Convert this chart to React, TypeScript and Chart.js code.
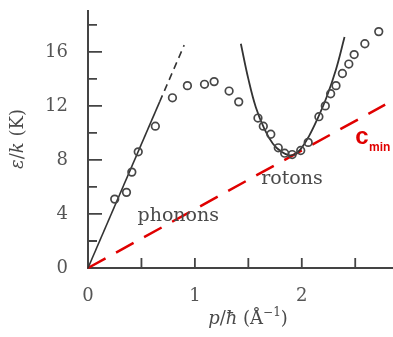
import { useEffect, useRef } from 'react';
import { Chart, registerables } from 'chart.js';

Chart.register(...registerables);

// measured dispersion points (p/ħ in Å^-1, ε/k in K)
const expP = [0.25, 0.36, 0.41, 0.47, 0.63, 0.79, 0.93, 1.09, 1.18, 1.32, 1.41, 1.59, 1.64, 1.71, 1.78, 1.84, 1.91, 1.99, 2.06, 2.16, 2.22, 2.27, 2.32, 2.38, 2.44, 2.49, 2.59, 2.72];
const expE = [5.1, 5.6, 7.1, 8.6, 10.5, 12.6, 13.5, 13.6, 13.8, 13.1, 12.3, 11.1, 10.5, 9.9, 8.9, 8.5, 8.4, 8.7, 9.3, 11.2, 12.0, 12.9, 13.5, 14.4, 15.1, 15.8, 16.6, 17.5];

// phonon line (solid part and dashed continuation)
const phononSolidP = [0, 0.67];
const phononSolidE = [0, 12.3];
const phononDashP = [0.67, 0.9];
const phononDashE = [12.3, 16.5];

// roton curve
const rotonP = [1.43, 1.50, 1.57, 1.65, 1.73, 1.81, 1.88, 1.93, 1.99, 2.07, 2.15, 2.23, 2.32, 2.40];
const rotonE = [16.6, 14.0, 11.9, 10.3, 9.2, 8.6, 8.35, 8.4, 8.8, 9.8, 11.1, 12.6, 14.7, 17.1];

// critical velocity line c_min
const cminP = [0, 2.78];
const cminE = [0, 12.1];

const xTickLabels = [0, 1, 2];
const yTickLabels = [0, 4, 8, 12, 16];
const xTickMarks = [0.5, 1, 1.5, 2, 2.5];
const yMajorTickMarks = [4, 8, 12, 16];
const yMinorTickMarks = [2, 6, 10, 14, 18];

const pts = (xs: number[], ys: number[]) => xs.map((x, i) => ({ x, y: ys[i] }));

const SERIF = '"DejaVu Serif", serif';
const TEXT = '#4a4a4a';

type Run = { t: string; font: string; dy?: number };

function drawRuns(ctx: CanvasRenderingContext2D, runs: Run[], x: number, y: number) {
  let total = 0;
  const widths = runs.map((r) => {
    ctx.font = r.font;
    const w = ctx.measureText(r.t).width;
    total += w;
    return w;
  });
  let cx = x - total / 2;
  runs.forEach((r, i) => {
    ctx.font = r.font;
    ctx.fillText(r.t, cx, y + (r.dy || 0));
    cx += widths[i];
  });
}

const decor = {
  id: 'decor',
  beforeDatasetsDraw(chart: any) {
    const { ctx, chartArea, scales } = chart;
    const xs = scales.x, ys = scales.y;
    const x0 = xs.getPixelForValue(0);
    const y0 = ys.getPixelForValue(0);
    ctx.save();
    ctx.strokeStyle = '#444';
    ctx.lineWidth = 2;
    ctx.beginPath();
    ctx.moveTo(x0, chartArea.top);
    ctx.lineTo(x0, y0);
    ctx.lineTo(chart.width, y0);
    ctx.stroke();
    ctx.lineWidth = 1.8;
    ctx.beginPath();
    yMajorTickMarks.forEach((v) => {
      const py = ys.getPixelForValue(v);
      ctx.moveTo(x0, py);
      ctx.lineTo(x0 + 14, py);
    });
    yMinorTickMarks.forEach((v) => {
      const py = ys.getPixelForValue(v);
      ctx.moveTo(x0, py);
      ctx.lineTo(x0 + 9, py);
    });
    xTickMarks.forEach((v) => {
      const px = xs.getPixelForValue(v);
      ctx.moveTo(px, y0);
      ctx.lineTo(px, y0 - 10);
    });
    ctx.stroke();
    ctx.restore();
  },
  afterDraw(chart: any) {
    const { ctx, scales } = chart;
    const xs = scales.x, ys = scales.y;
    ctx.save();
    ctx.fillStyle = TEXT;
    ctx.textBaseline = 'alphabetic';
    ctx.textAlign = 'left';
    ctx.font = `19px ${SERIF}`;
    ctx.fillText('phonons', xs.getPixelForValue(0.463), ys.getPixelForValue(3.48));
    ctx.fillText('rotons', xs.getPixelForValue(1.62), ys.getPixelForValue(6.22));

    // c_min label
    ctx.fillStyle = '#e00000';
    ctx.font = 'bold 24px "Liberation Sans", Arial, sans-serif';
    const cx = xs.getPixelForValue(2.5);
    const cy = ys.getPixelForValue(9.2);
    ctx.fillText('c', cx, cy);
    const cw = ctx.measureText('c').width;
    ctx.font = 'bold 12px "Liberation Sans", Arial, sans-serif';
    ctx.fillText('min', cx + cw + 0.5, cy + 7);

    // axis titles
    ctx.fillStyle = TEXT;
    ctx.textBaseline = 'middle';
    drawRuns(ctx, [
      { t: 'p', font: `italic 18px ${SERIF}` },
      { t: '/', font: `18px ${SERIF}` },
      { t: 'ħ', font: `italic 18px ${SERIF}` },
      { t: ' (Å', font: `18px ${SERIF}` },
      { t: '−1', font: `12px ${SERIF}`, dy: -6 },
      { t: ')', font: `18px ${SERIF}` },
    ], 248, 319);

    ctx.translate(18, 139);
    ctx.rotate(-Math.PI / 2);
    drawRuns(ctx, [
      { t: 'ε', font: `italic 18px ${SERIF}` },
      { t: '/', font: `18px ${SERIF}` },
      { t: 'k', font: `italic 18px ${SERIF}` },
      { t: ' (K)', font: `18px ${SERIF}` },
    ], 0, 0);
    ctx.restore();
  },
};

export default function App() {
  const ref = useRef<HTMLCanvasElement | null>(null);
  useEffect(() => {
    document.body.style.margin = '0';
    const canvas = ref.current;
    if (!canvas) return;
    const chart = new Chart(canvas, {
      type: 'scatter',
      data: {
        datasets: [
          {
            data: pts(expP, expE),
            showLine: false,
            pointRadius: 3.8,
            pointBorderWidth: 1.7,
            pointBorderColor: '#474747',
            pointBackgroundColor: 'rgba(255,255,255,0)',
            clip: false,
          } as any,
          {
            data: pts(rotonP, rotonE),
            showLine: true,
            borderColor: '#333',
            borderWidth: 1.8,
            pointRadius: 0,
            tension: 0.4,
            clip: false,
          },
          {
            data: pts(phononSolidP, phononSolidE),
            showLine: true,
            borderColor: '#333',
            borderWidth: 1.6,
            pointRadius: 0,
            clip: false,
          },
          {
            data: pts(phononDashP, phononDashE),
            showLine: true,
            borderColor: '#333',
            borderWidth: 1.6,
            borderDash: [7, 5],
            pointRadius: 0,
            clip: false,
          },
          {
            data: pts(cminP, cminE),
            showLine: true,
            borderColor: '#e00000',
            borderWidth: 2.5,
            borderDash: [20, 12],
            pointRadius: 0,
            clip: false,
          },
        ],
      },
      options: {
        responsive: false,
        animation: false,
        devicePixelRatio: 1,
        layout: { padding: { top: 10, right: 3, left: 0, bottom: 0 } },
        plugins: { legend: { display: false }, tooltip: { enabled: false } },
        scales: {
          x: {
            type: 'linear',
            min: 0,
            max: 2.8,
            grid: { display: false, drawTicks: false },
            border: { display: false },
            ticks: {
              stepSize: 0.5,
              autoSkip: false,
              maxRotation: 0,
              padding: 18,
              color: '#555',
              font: { family: SERIF, size: 18 },
              callback: (v: any) => (xTickLabels.includes(Number(v)) ? String(v) : ''),
            },
            afterFit: (s: any) => {
              s.height = 69;
              s.paddingLeft = 0;
              s.paddingRight = 0;
              s.paddingTop = 0;
              s.paddingBottom = 0;
            },
          },
          y: {
            type: 'linear',
            min: 0,
            max: 19.1,
            grid: { display: false, drawTicks: false },
            border: { display: false },
            ticks: {
              stepSize: 2,
              autoSkip: false,
              padding: 20,
              color: '#555',
              font: { family: SERIF, size: 18 },
              callback: (v: any) => (yTickLabels.includes(Number(v)) ? String(v) : ''),
            },
            afterFit: (s: any) => {
              s.width = 88;
              s.paddingLeft = 0;
              s.paddingRight = 0;
              s.paddingTop = 0;
              s.paddingBottom = 0;
            },
          },
        },
      },
      plugins: [decor],
    });
    return () => chart.destroy();
  }, []);
  return (
    <div style={{ width: 393, height: 337 }}>
      <canvas ref={ref} width={393} height={337} style={{ display: 'block', width: 393, height: 337 }} />
    </div>
  );
}
